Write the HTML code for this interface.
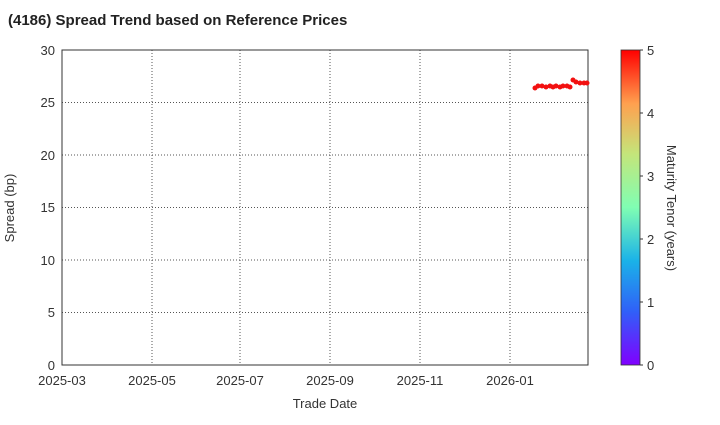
<!DOCTYPE html>
<html><head><meta charset="utf-8"><style>
body{margin:0;background:#fff;}
svg text{font-family:"Liberation Sans",sans-serif;fill:#333;}
</style></head><body>
<svg width="720" height="420" viewBox="0 0 720 420">
<defs>
<linearGradient id="rb" x1="0" y1="1" x2="0" y2="0">
<stop offset="0" stop-color="#8000ff"/>
<stop offset="0.17" stop-color="#3060f8"/>
<stop offset="0.33" stop-color="#1ab2e8"/>
<stop offset="0.5" stop-color="#80feb3"/>
<stop offset="0.67" stop-color="#c4e57a"/>
<stop offset="0.83" stop-color="#ffa04f"/>
<stop offset="1" stop-color="#ff0000"/>
</linearGradient>
</defs>
<text x="8" y="25" font-size="15" font-weight="bold" style="fill:#222">(4186)   Spread Trend based on Reference Prices</text>
<g stroke="#555" stroke-dasharray="1,2" stroke-width="1">
<line x1="152" y1="50" x2="152" y2="365"/><line x1="240" y1="50" x2="240" y2="365"/>
<line x1="330" y1="50" x2="330" y2="365"/><line x1="420" y1="50" x2="420" y2="365"/>
<line x1="510" y1="50" x2="510" y2="365"/>
<line x1="62" y1="102.5" x2="588" y2="102.5"/><line x1="62" y1="155" x2="588" y2="155"/>
<line x1="62" y1="207.5" x2="588" y2="207.5"/><line x1="62" y1="260" x2="588" y2="260"/>
<line x1="62" y1="312.5" x2="588" y2="312.5"/>
</g>
<rect x="62" y="50" width="526" height="315" fill="none" stroke="#333"/>
<g font-size="13" text-anchor="end">
<text x="55" y="370">0</text><text x="55" y="317">5</text><text x="55" y="265">10</text>
<text x="55" y="212">15</text><text x="55" y="160">20</text><text x="55" y="107">25</text><text x="55" y="55">30</text>
</g>
<g font-size="13" text-anchor="middle">
<text x="62" y="385">2025-03</text><text x="152" y="385">2025-05</text><text x="240" y="385">2025-07</text>
<text x="330" y="385">2025-09</text><text x="420" y="385">2025-11</text><text x="510" y="385">2026-01</text>
</g>
<text x="325" y="408" font-size="13" text-anchor="middle">Trade Date</text>
<text transform="translate(14,208) rotate(-90)" font-size="13" text-anchor="middle">Spread (bp)</text>
<g fill="#f21010">
<circle cx="535" cy="88" r="2.5"/><circle cx="538" cy="86" r="2.5"/><circle cx="542" cy="86" r="2.5"/>
<circle cx="546" cy="87" r="2.5"/><circle cx="550" cy="86" r="2.5"/><circle cx="553" cy="87" r="2.5"/>
<circle cx="556" cy="86" r="2.5"/><circle cx="560" cy="87" r="2.5"/><circle cx="563" cy="86" r="2.5"/>
<circle cx="567" cy="86" r="2.5"/><circle cx="570" cy="87" r="2.5"/><circle cx="573" cy="80" r="2.5"/>
<circle cx="576" cy="82" r="2.5"/><circle cx="580" cy="83" r="2.5"/><circle cx="584" cy="83" r="2.5"/>
<circle cx="587" cy="83" r="2.5"/>
</g>
<rect x="621" y="50" width="19" height="315" fill="url(#rb)"/>
<rect x="621" y="50" width="19" height="315" fill="none" stroke="#333" stroke-width="0.8"/>
<g font-size="13">
<text x="647" y="370">0</text><text x="647" y="307">1</text><text x="647" y="244">2</text>
<text x="647" y="181">3</text><text x="647" y="118">4</text><text x="647" y="55">5</text>
</g>
<g stroke="#333"><line x1="640" y1="365" x2="643" y2="365"/><line x1="640" y1="302" x2="643" y2="302"/>
<line x1="640" y1="239" x2="643" y2="239"/><line x1="640" y1="176" x2="643" y2="176"/>
<line x1="640" y1="113" x2="643" y2="113"/><line x1="640" y1="50" x2="643" y2="50"/></g>
<text transform="translate(667,208) rotate(90)" font-size="13" text-anchor="middle">Maturity Tenor (years)</text>
</svg>
</body></html>
